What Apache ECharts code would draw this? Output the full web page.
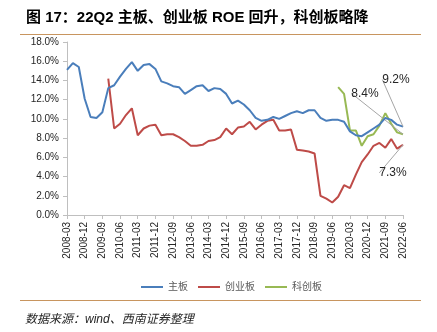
<!DOCTYPE html>
<html>
<head>
<meta charset="utf-8">
<script src="https://cdn.jsdelivr.net/npm/echarts@6/dist/echarts.min.js"></script>
<style>
html,body{margin:0;padding:0;background:#fff;}
#c{width:437px;height:332px;}
</style>
</head>
<body>
<div id="c"></div>
<script>
const categories = (function(){
  const out = [];
  for (let y = 2008; y <= 2022; y++) {
    for (const m of ['03','06','09','12']) {
      out.push(y + '-' + m);
      if (y === 2022 && m === '06') return out;
    }
  }
  return out;
})();

const mainBoard = [15.1,15.8,15.4,12.1,10.2,10.1,10.7,13.2,13.5,14.4,
  15.2,15.9,15.0,15.6,15.7,15.2,13.9,13.7,13.4,13.3,
  12.6,13.0,13.4,13.5,12.9,13.2,13.1,12.6,11.6,11.9,
  11.5,10.9,10.1,9.8,9.9,10.2,10.0,10.3,10.6,10.8,
  10.6,10.9,10.9,10.1,9.8,9.9,9.9,9.7,8.7,8.3,
  8.2,8.6,9.0,9.4,10.1,9.9,9.4,9.2];

const chiNext = [null,null,null,null,null,null,null,14.2,9.0,9.5,
  10.4,11.1,8.3,9.0,9.3,9.4,8.3,8.4,8.4,8.1,
  7.7,7.2,7.2,7.3,7.7,7.8,8.1,9.0,8.4,9.1,
  9.2,9.7,8.9,9.4,9.8,9.9,8.8,8.8,8.9,6.8,
  6.7,6.6,6.4,2.0,1.7,1.3,1.9,3.1,2.8,4.2,
  5.5,6.3,7.2,7.5,7.0,7.9,6.9,7.3];

const star = [null,null,null,null,null,null,null,null,null,null,
  null,null,null,null,null,null,null,null,null,null,
  null,null,null,null,null,null,null,null,null,null,
  null,null,null,null,null,null,null,null,null,null,
  null,null,null,null,null,null,13.3,12.6,8.8,8.8,
  7.2,8.2,8.4,9.3,10.6,9.5,8.6,8.4];

const seriesNames = ['主板','创业板','科创板'];
const yTicks = [0,2,4,6,8,10,12,14,16,18];

const FONT = '"Liberation Sans", Arial, "Noto Sans CJK SC", sans-serif';
const last = categories.length - 1;

function withEndLabel(arr, pos) {
  return arr.map((v, i) => i === last ? {value: v, label: {show: true, position: pos}} : v);
}

const chart = echarts.init(document.getElementById('c'), null, {renderer: 'canvas'});

const lineLabel = {
  show: false,
  formatter: p => p.value.toFixed(1) + '%',
  color: '#262626',
  fontSize: 12,
  fontFamily: FONT
};
const guide = {show: true, length2: 4, lineStyle: {color: '#a6a6a6', width: 1}};

function lineSeries(name, arr, color, pos, dx, dy, z) {
  return {
    name: name, type: 'line', data: withEndLabel(arr, pos),
    symbol: 'circle', symbolSize: 0, showSymbol: true,
    lineStyle: {width: 2, color: color}, itemStyle: {color: color},
    label: lineLabel, labelLine: guide,
    labelLayout: {dx: dx, dy: dy}, z: z
  };
}

chart.setOption({
  animation: false,
  backgroundColor: '#fff',
  title: [{
    text: '图 17：22Q2 主板、创业板 ROE 回升，科创板略降',
    left: 21, top: 5,
    textStyle: {fontSize: 15, fontWeight: 'bold', color: '#000', fontFamily: FONT}
  }, {
    text: '数据来源：wind、西南证券整理',
    left: 20, top: 309,
    textStyle: {fontSize: 12, fontWeight: 'normal', fontStyle: 'italic', color: '#262626', fontFamily: FONT}
  }],
  graphic: [
    {type: 'rect', left: 20, top: 34, shape: {width: 401, height: 1}, style: {fill: '#c8955f'}, silent: true},
    {type: 'rect', left: 20, top: 300, shape: {width: 401, height: 1}, style: {fill: '#c8955f'}, silent: true}
  ],
  legend: {
    data: seriesNames,
    left: 136, top: 277,
    itemWidth: 22, itemHeight: 2, itemGap: 10,
    icon: 'rect',
    textStyle: {fontSize: 10, color: '#595959', fontFamily: FONT}
  },
  grid: {left: 67, right: 34, top: 42, bottom: 117, containLabel: false},
  xAxis: {
    type: 'category',
    data: categories,
    boundaryGap: false,
    axisLine: {lineStyle: {color: '#bfbfbf', width: 1}},
    axisTick: {show: true, interval: 2, length: 4, lineStyle: {color: '#bfbfbf'}},
    axisLabel: {interval: 2, rotate: 90, fontSize: 10, color: '#262626', margin: 7, fontFamily: FONT},
    splitLine: {show: false}
  },
  yAxis: {
    type: 'value',
    min: yTicks[0], max: yTicks[yTicks.length - 1], interval: 2,
    axisLine: {show: true, lineStyle: {color: '#bfbfbf', width: 1}},
    axisTick: {show: true, length: 4, lineStyle: {color: '#bfbfbf'}},
    axisLabel: {formatter: v => v.toFixed(1) + '%', fontSize: 10, color: '#262626', margin: 8, fontFamily: FONT},
    splitLine: {show: false}
  },
  series: [
    lineSeries(seriesNames[0], mainBoard, '#4a7ebb', 'top', -7, -36, 3),
    lineSeries(seriesNames[1], chiNext, '#be4b48', 'bottom', -10, 17, 2),
    lineSeries(seriesNames[2], star, '#98b954', 'top', -38, -30, 2)
  ]
});
</script>
</body>
</html>
